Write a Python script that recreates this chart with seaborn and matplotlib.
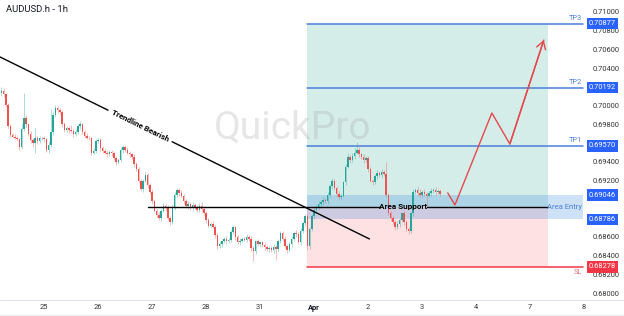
import numpy as np
import pandas as pd
import matplotlib
matplotlib.use("Agg")
import matplotlib.pyplot as plt
import matplotlib.transforms as mtransforms
from matplotlib.patches import Rectangle
from matplotlib.lines import Line2D
import seaborn as sns

# ---------------- data ----------------
title = "AUDUSD.h - 1h"
day_labels = ["25", "26", "27", "28", "31", "Apr", "2", "3", "4", "7", "8"]
day_tick_hours = [19.5, 43.5, 67.5, 91.5, 115.5, 139.5, 163.5, 187.5, 211.5, 235.5, 259.5]

first_open = 0.7013
closes = [
    0.7016, 0.7012, 0.7001, 0.6978, 0.6969, 0.6967, 0.6966, 0.6964, 0.6956, 0.6975, 0.6987, 0.6980,
    0.6970, 0.6963, 0.6960, 0.6966, 0.6962, 0.6965, 0.6966, 0.6964, 0.6953, 0.6958, 0.6972, 0.6990,
    0.6997, 0.6995, 0.6993, 0.6980, 0.6974, 0.6976, 0.6974, 0.6973, 0.6970, 0.6972, 0.6978, 0.6980,
    0.6972, 0.6968, 0.6966, 0.6965, 0.6950, 0.6952, 0.6962, 0.6963, 0.6955, 0.6952, 0.6950, 0.6948,
    0.6951, 0.6949, 0.6944, 0.6940, 0.6942, 0.6953, 0.6956, 0.6953, 0.6950, 0.6948, 0.6945, 0.6938,
    0.6932, 0.6920, 0.6911, 0.6920, 0.6926, 0.6915, 0.6908, 0.6898, 0.6888, 0.6883, 0.6880, 0.6888,
    0.6893, 0.6891, 0.6880, 0.6876, 0.6892, 0.6905, 0.6910, 0.6907, 0.6904, 0.6898, 0.6893, 0.6895,
    0.6891, 0.6894, 0.6892, 0.6889, 0.6893, 0.6890, 0.6885, 0.6878, 0.6872, 0.6874, 0.6871, 0.6862,
    0.6850, 0.6852, 0.6855, 0.6858, 0.6855, 0.6857, 0.6865, 0.6870, 0.6860, 0.6854, 0.6856, 0.6858,
    0.6857, 0.6860, 0.6858, 0.6848, 0.6845, 0.6855, 0.6852, 0.6854, 0.6851, 0.6849, 0.6847, 0.6848,
    0.6846, 0.6849, 0.6847, 0.6855, 0.6864, 0.6858, 0.6850, 0.6846, 0.6852, 0.6858, 0.6864, 0.6863,
    0.6854, 0.6866, 0.6875, 0.6882, 0.6850, 0.6868, 0.6882, 0.6889, 0.6892, 0.6895, 0.6897, 0.6899,
    0.6898, 0.6905, 0.6914, 0.6920, 0.6912, 0.6906, 0.6902, 0.6904, 0.6918, 0.6935, 0.6945, 0.6942,
    0.6946, 0.6950, 0.6953, 0.6948, 0.6945, 0.6942, 0.6944, 0.6932, 0.6920, 0.6918, 0.6925, 0.6928,
    0.6926, 0.6929, 0.6927, 0.6905, 0.6885, 0.6880, 0.6876, 0.6870, 0.6874, 0.6878, 0.6885, 0.6876,
    0.6868, 0.6866, 0.6885, 0.6908, 0.6910, 0.6907, 0.6905, 0.6908, 0.6906, 0.6904, 0.6907, 0.6909,
    0.6910, 0.6908, 0.6909, 0.6906,
]
# wick lengths in pips (0.0001)
upper_wick_pips = [
    4, 3, 2, 2, 2, 2, 3, 2, 2, 6, 27, 3,
    2, 3, 2, 10, 2, 3, 2, 2, 2, 4, 24, 3,
    4, 3, 2, 2, 3, 2, 2, 5, 2, 3, 2, 4,
    2, 2, 3, 2, 2, 3, 2, 2, 2, 2, 2, 3,
    2, 2, 3, 2, 2, 3, 2, 2, 3, 2, 2, 3,
    2, 3, 2, 2, 3, 2, 2, 3, 2, 2, 4, 2,
    3, 2, 3, 2, 2, 3, 2, 2, 3, 2, 2, 3,
    2, 3, 2, 2, 3, 4, 2, 3, 2, 2, 3, 2,
    2, 3, 2, 2, 3, 2, 2, 3, 2, 2, 3, 2,
    2, 3, 2, 3, 2, 2, 3, 2, 2, 3, 2, 2,
    2, 3, 2, 3, 2, 2, 3, 2, 2, 3, 2, 3,
    2, 3, 2, 2, 3, 2, 2, 3, 2, 3, 2, 3,
    2, 3, 2, 3, 2, 2, 3, 2, 2, 3, 4, 2,
    3, 5, 8, 3, 2, 3, 2, 2, 3, 2, 2, 3,
    2, 3, 2, 13, 2, 3, 2, 2, 3, 2, 2, 3,
    2, 3, 2, 3, 2, 3, 4, 2, 3, 2, 2, 3,
    2, 3, 2, 2,
]
lower_wick_pips = [
    3, 3, 2, 2, 2, 2, 2, 2, 3, 2, 2, 3,
    2, 3, 4, 10, 3, 2, 2, 3, 2, 3, 2, 3,
    2, 3, 2, 3, 2, 2, 3, 2, 3, 2, 2, 3,
    2, 3, 2, 2, 3, 2, 3, 2, 3, 2, 2, 3,
    2, 3, 2, 3, 2, 2, 3, 2, 2, 3, 2, 3,
    2, 3, 2, 3, 2, 3, 2, 3, 2, 3, 2, 3,
    2, 3, 2, 3, 2, 3, 2, 3, 2, 3, 2, 3,
    2, 3, 2, 3, 2, 3, 2, 3, 2, 3, 2, 3,
    3, 2, 3, 2, 3, 2, 3, 2, 3, 2, 3, 2,
    2, 3, 2, 3, 11, 3, 2, 3, 2, 3, 2, 3,
    2, 3, 12, 3, 2, 3, 2, 3, 2, 3, 2, 3,
    2, 3, 2, 3, 4, 3, 2, 3, 2, 3, 2, 3,
    2, 3, 2, 3, 2, 3, 2, 3, 2, 3, 2, 3,
    2, 3, 2, 3, 2, 3, 2, 3, 2, 3, 2, 3,
    2, 3, 2, 3, 2, 3, 2, 3, 2, 3, 2, 3,
    2, 3, 2, 3, 2, 3, 2, 3, 2, 12, 2, 3,
    2, 3, 2, 2,
]

tp_names = ["TP1", "TP2", "TP3"]
tp_levels = [0.69570, 0.70192, 0.70877]
sl_level = 0.68278
entry_top = 0.69046
entry_bottom = 0.68786
support_level = 0.6892
zone_start_hour = 136.5
zone_end_hour = 243.5
levels_end_hour = 259.0
support_start_hour = 65.7

trend_hours = [0.0, 164.2]
trend_prices = [0.70520, 0.68577]

proj_hours = [199.0, 202.2, 218.6, 226.6, 241.7]
proj_prices = [0.69068, 0.68940, 0.69922, 0.69591, 0.70701]

# axis price ticks (those hidden behind the level boxes are left unlabeled)
y_ticks = [0.680, 0.682, 0.684, 0.686, 0.692, 0.694, 0.698,
           0.700, 0.704, 0.706, 0.708, 0.710]

# ---------------- style ----------------
sns.set_theme(style="white")
plt.rcParams["font.family"] = ["Roboto", "DejaVu Sans"]

GREEN = "#26a69a"
RED = "#ef5350"
BLUE_LINE = "#4a7fd8"
BLUE_BOX = "#2962ff"
SL_RED = "#f23645"
TXT = "#131722"

fig = plt.figure(figsize=(6.24, 3.16), dpi=100)
ax = fig.add_axes([0, 16 / 316, 585 / 624, 300 / 316])
ax.set_xlim(0, 260)
ax.set_ylim(0.679254, 0.711281)
fig.patch.set_facecolor("white")
ax.set_facecolor("white")

# ---------------- candles ----------------
df = pd.DataFrame({"close": closes})
df["open"] = [first_open] + closes[:-1]
df["high"] = np.maximum(df["open"], df["close"]) + np.array(upper_wick_pips) * 1e-4
df["low"] = np.minimum(df["open"], df["close"]) - np.array(lower_wick_pips) * 1e-4
df["x"] = np.arange(len(df)) + 0.6
df["color"] = np.where(df["close"] >= df["open"], GREEN, RED)

ax.vlines(df["x"], df["low"], df["high"], colors=df["color"], lw=0.6, alpha=0.45, zorder=3)
body_h = (df["close"] - df["open"]).abs().clip(lower=0.00004)
ax.bar(df["x"], body_h, bottom=np.minimum(df["open"], df["close"]), width=0.62,
       color=df["color"], linewidth=0, zorder=3.5)

# ---------------- position zones ----------------
ax.add_patch(Rectangle((zone_start_hour, support_level), zone_end_hour - zone_start_hour,
                       tp_levels[-1] - support_level, facecolor=(8/255, 153/255, 129/255, 0.17),
                       lw=0, zorder=1))
ax.add_patch(Rectangle((zone_start_hour, sl_level), zone_end_hour - zone_start_hour,
                       support_level - sl_level, facecolor=(242/255, 54/255, 69/255, 0.15),
                       lw=0, zorder=1))
ax.add_patch(Rectangle((zone_start_hour, entry_bottom), levels_end_hour - zone_start_hour,
                       entry_top - entry_bottom, facecolor=(33/255, 125/255, 220/255, 0.22),
                       lw=0, zorder=1.2))

# watermark
ax.text(130, 0.69762, "QuickPro", fontsize=28, color="#9e9e9e", alpha=0.25,
        ha="center", va="center", zorder=2)

# TP / SL lines
for name, lvl in zip(tp_names, tp_levels):
    ax.plot([zone_start_hour, levels_end_hour], [lvl, lvl], color=BLUE_LINE, lw=1.1, zorder=4)
    ax.text(levels_end_hour - 0.5, lvl + 0.00018, name, color=BLUE_LINE, fontsize=5.3,
            ha="right", va="bottom", zorder=5)
ax.plot([zone_start_hour, levels_end_hour], [sl_level, sl_level], color=SL_RED, lw=1.1, zorder=4)
ax.text(levels_end_hour - 0.5, sl_level - 0.00022, "SL", color="#e26b74", fontsize=5.3,
        ha="right", va="top", zorder=5)
ax.text(levels_end_hour - 0.5, (entry_top + entry_bottom) / 2, "Area Entry", color=BLUE_LINE,
        fontsize=5.5, ha="right", va="center", zorder=5)

# support line with text gap
sup_text_x = 179.3
ax.plot([support_start_hour, 168.8], [support_level] * 2, color="black", lw=1.0, zorder=4)
ax.plot([189.9, zone_end_hour], [support_level] * 2, color="black", lw=1.0, zorder=4)
ax.text(sup_text_x, support_level, "Area Support", fontsize=5.9, fontweight="bold",
        color="black", ha="center", va="center", zorder=5)

# trendline with text gap
tx0, tx1 = trend_hours
ty0, ty1 = trend_prices
slope = (ty1 - ty0) / (tx1 - tx0)
g0, g1 = 48.0, 76.5
ax.plot([tx0, g0], [ty0, ty0 + slope * (g0 - tx0)], color="black", lw=1.0, zorder=4)
ax.plot([g1, tx1], [ty0 + slope * (g1 - tx0), ty1], color="black", lw=1.0, zorder=4)
p1 = ax.transData.transform((tx0, ty0))
p2 = ax.transData.transform((tx1, ty1))
ang = np.degrees(np.arctan2(p2[1] - p1[1], p2[0] - p1[0]))
tmid = (g0 + g1) / 2
ax.text(tmid, ty0 + slope * (tmid - tx0), "Trendline Bearish", fontsize=5.8, fontweight="bold",
        color="black", rotation=ang, rotation_mode="anchor", ha="center", va="center", zorder=5)

# projected path
sns.lineplot(x=proj_hours, y=proj_prices, ax=ax, color="#e5484d", lw=1.0, sort=False,
             estimator=None, zorder=6)
ax.annotate("", xy=(proj_hours[-1], proj_prices[-1]), xytext=(proj_hours[-2], proj_prices[-2]),
            arrowprops=dict(arrowstyle="->,head_length=0.45,head_width=0.28", color="#e5484d",
                            lw=1.0, shrinkA=0, shrinkB=0), zorder=6)

# ---------------- axes ----------------
for s in ["top", "left", "right", "bottom"]:
    ax.spines[s].set_visible(False)
ax.yaxis.tick_right()
ax.set_yticks(y_ticks)
ax.set_yticklabels([f"{v:.5f}" for v in y_ticks])
ax.tick_params(axis="y", length=0, pad=5.5, labelsize=5.4, labelcolor="#333333")
ax.set_xticks(day_tick_hours)
ax.set_xticklabels(day_labels)
ax.tick_params(axis="x", length=0, pad=3, labelsize=5.4, labelcolor="#333333")
for lbl in ax.get_xticklabels():
    if lbl.get_text() == "Apr":
        lbl.set_fontweight("bold")
        lbl.set_color(TXT)
ax.grid(False)

# price value boxes
trans = mtransforms.blended_transform_factory(ax.transAxes, ax.transData)
box_levels = tp_levels + [entry_top, entry_bottom]
for lvl in box_levels:
    ax.text(1.0 + 4 / 585, lvl, f"{lvl:.5f}", transform=trans, fontsize=5.4, color="white",
            ha="left", va="center", clip_on=False, zorder=10,
            bbox=dict(boxstyle="square,pad=0.28", fc=BLUE_BOX, ec="none"))
ax.text(1.0 + 4 / 585, sl_level, f"{sl_level:.5f}", transform=trans, fontsize=5.4, color="white",
        ha="left", va="center", clip_on=False, zorder=10,
        bbox=dict(boxstyle="square,pad=0.28", fc=SL_RED, ec="none"))

# separators
fig.add_artist(Line2D([0, 1], [16 / 316, 16 / 316], transform=fig.transFigure,
                      color="#e0e3eb", lw=0.8))
fig.add_artist(Line2D([0, 1], [1 / 316, 1 / 316], transform=fig.transFigure,
                      color="#eceef2", lw=0.8))

# title
fig.text(6 / 624, 1 - 10 / 316, title, fontsize=6.8, color=TXT, ha="left", va="center")

fig.savefig("out.png", dpi=100, facecolor="white")
